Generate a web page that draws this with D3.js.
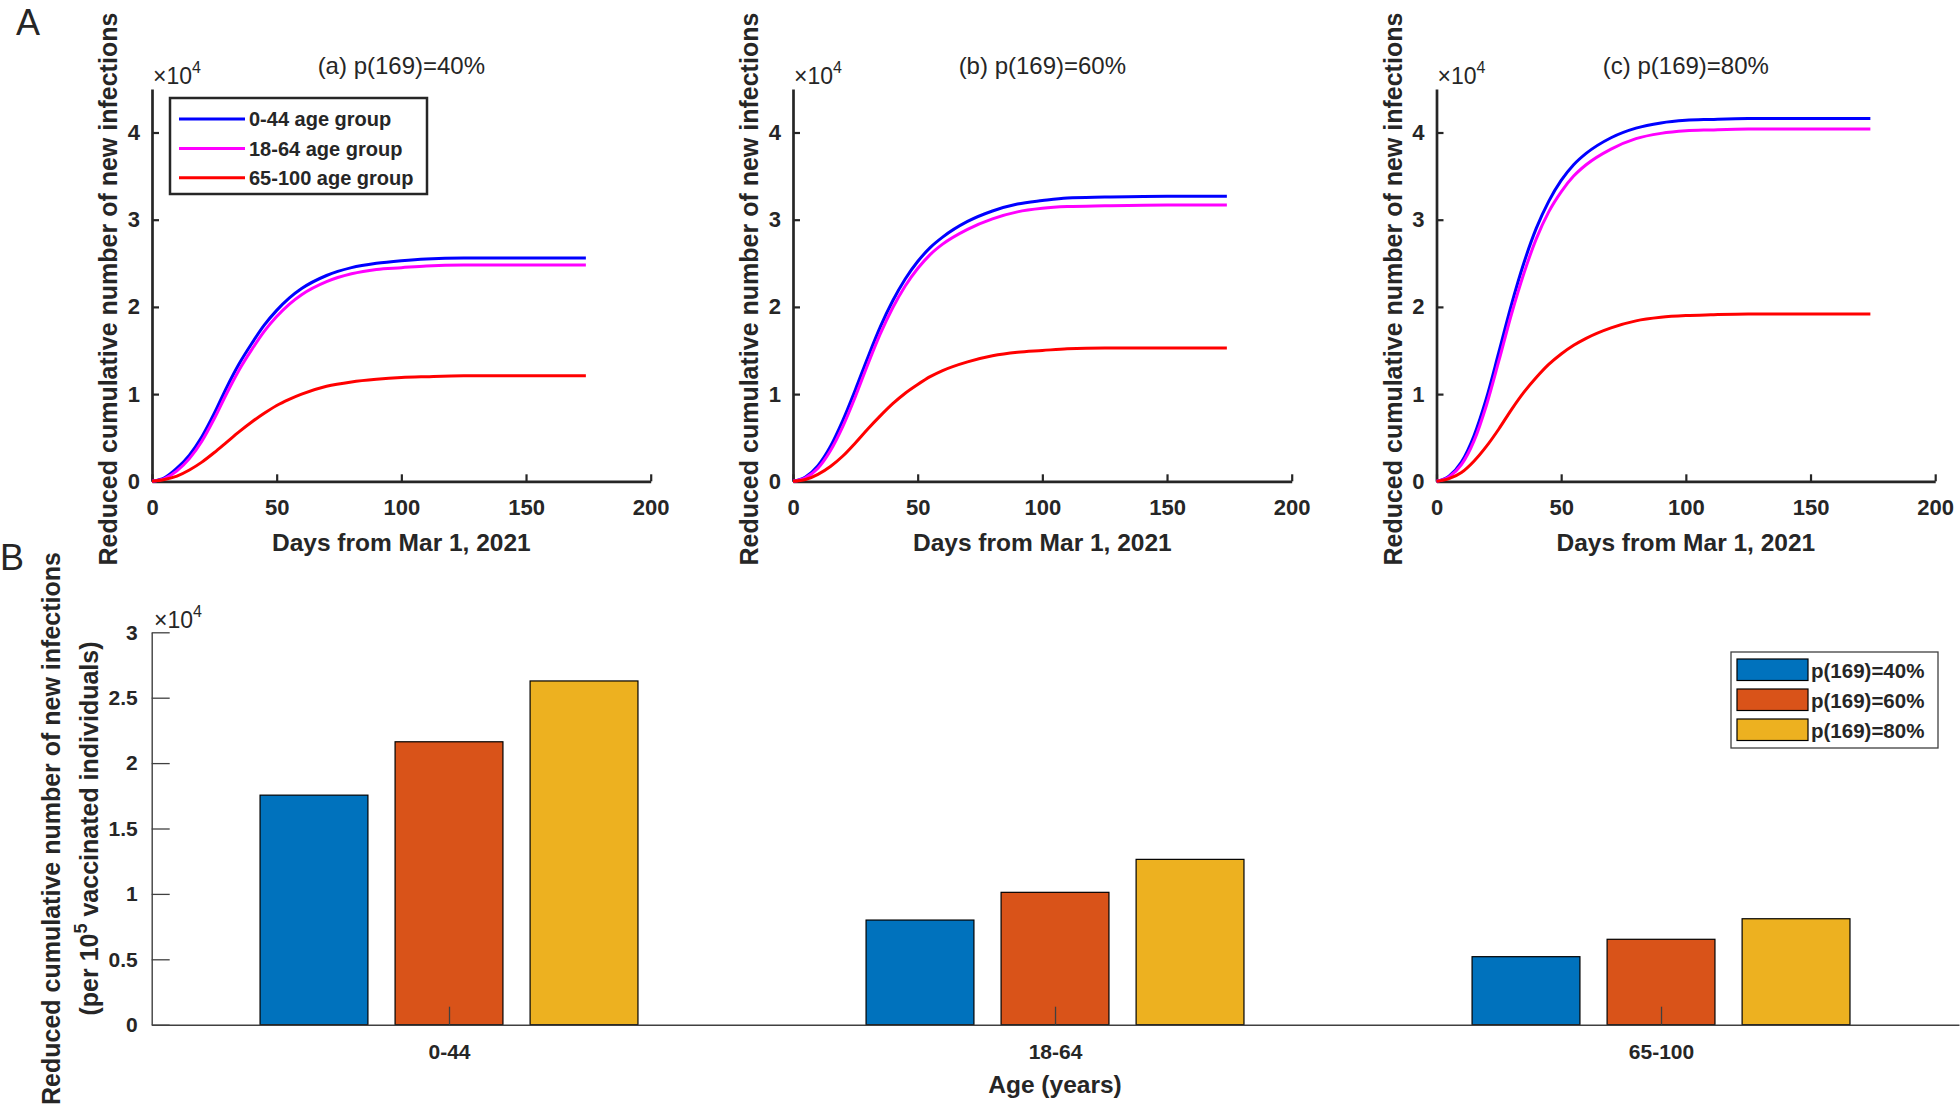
<!DOCTYPE html>
<html lang="en">
<head>
    <meta charset="UTF-8">
    <title>Reduced cumulative infections</title>
    <script src="https://d3js.org/d3.v7.min.js"></script>
    <style>
        body { margin: 0; background: #fff; }
        svg text { font-family: "Liberation Sans", Arial, Helvetica, sans-serif; fill: #262626; }
    </style>
</head>
<body>
    <div id="chart"></div>

    <script>
        // ---- data (values in units of 10^4) ----
        const days = [0, 5, 10, 15, 20, 25, 30, 35, 40, 45, 50, 55, 60, 70, 80, 90, 100, 110, 125, 150, 174];
        const ageGroups = ["0-44 age group", "18-64 age group", "65-100 age group"];
        const panelTitles = ["(a) p(169)=40%", "(b) p(169)=60%", "(c) p(169)=80%"];

        const p40_0_44   = [0, 0.04, 0.15, 0.30, 0.51, 0.78, 1.08, 1.35, 1.58, 1.79, 1.96, 2.10, 2.21, 2.36, 2.45, 2.50, 2.53, 2.55, 2.56, 2.56, 2.56];
        const p40_18_64  = [0, 0.03, 0.12, 0.26, 0.46, 0.72, 1.01, 1.28, 1.51, 1.72, 1.89, 2.03, 2.14, 2.29, 2.38, 2.43, 2.45, 2.47, 2.48, 2.48, 2.48];
        const p40_65_100 = [0, 0.02, 0.06, 0.13, 0.22, 0.33, 0.45, 0.57, 0.68, 0.78, 0.87, 0.94, 1.00, 1.09, 1.14, 1.17, 1.19, 1.20, 1.21, 1.21, 1.21];

        const p60_0_44   = [0, 0.05, 0.18, 0.40, 0.70, 1.05, 1.42, 1.77, 2.07, 2.32, 2.52, 2.68, 2.80, 2.98, 3.10, 3.18, 3.22, 3.25, 3.26, 3.27, 3.27];
        const p60_18_64  = [0, 0.04, 0.15, 0.35, 0.63, 0.97, 1.34, 1.69, 1.99, 2.24, 2.44, 2.60, 2.72, 2.89, 3.01, 3.09, 3.13, 3.15, 3.16, 3.17, 3.17];
        const p60_65_100 = [0, 0.02, 0.08, 0.17, 0.29, 0.44, 0.60, 0.75, 0.89, 1.01, 1.11, 1.20, 1.27, 1.37, 1.44, 1.48, 1.50, 1.52, 1.53, 1.53, 1.53];

        const p80_0_44   = [0, 0.06, 0.22, 0.52, 0.95, 1.48, 2.02, 2.50, 2.90, 3.21, 3.45, 3.63, 3.76, 3.94, 4.05, 4.11, 4.14, 4.15, 4.16, 4.16, 4.16];
        const p80_18_64  = [0, 0.05, 0.19, 0.46, 0.87, 1.38, 1.91, 2.38, 2.78, 3.09, 3.32, 3.50, 3.63, 3.81, 3.93, 3.99, 4.02, 4.03, 4.04, 4.04, 4.04];
        const p80_65_100 = [0, 0.03, 0.10, 0.23, 0.40, 0.60, 0.82, 1.02, 1.19, 1.34, 1.46, 1.56, 1.64, 1.76, 1.84, 1.88, 1.90, 1.91, 1.92, 1.92, 1.92];

        const xTicksA = [0, 50, 100, 150, 200];
        const yTicksA = [0, 1, 2, 3, 4];

        const ageCategories = ["0-44", "18-64", "65-100"];
        const barSeries = ["p(169)=40%", "p(169)=60%", "p(169)=80%"];
        const bar40 = [1.755, 0.80, 0.52];
        const bar60 = [2.163, 1.012, 0.653];
        const bar80 = [2.628, 1.264, 0.81];
        const yTicksB = [0, 0.5, 1, 1.5, 2, 2.5, 3];

        // ---- styling ----
        const lineColors = ["#0000ff", "#ff00ff", "#ff0000"];
        const barColors = ["#0072BD", "#D95319", "#EDB120"];
        const axisColor = "#262626";
        const panels = [
            { title: panelTitles[0], series: [p40_0_44, p40_18_64, p40_65_100], left: 152, legend: true },
            { title: panelTitles[1], series: [p60_0_44, p60_18_64, p60_65_100], left: 793, legend: false },
            { title: panelTitles[2], series: [p80_0_44, p80_18_64, p80_65_100], left: 1436.5, legend: false }
        ];

        const svg = d3.select("#chart")
            .append("svg")
            .attr("width", 1960)
            .attr("height", 1116);

        // panel letters
        svg.append("text").attr("x", 16).attr("y", 35).attr("font-size", 36).text("A");
        svg.append("text").attr("x", 0).attr("y", 570).attr("font-size", 36).text("B");

        // ---- panel A: three line charts ----
        const plotW = 498.7, yTop = 88.9, yBottom = 481.3;

        panels.forEach(p => {
            const x = d3.scaleLinear().domain([0, 200]).range([p.left, p.left + plotW]);
            const y = d3.scaleLinear().domain([0, 4.5]).range([yBottom, yTop]);

            const g = svg.append("g");

            const xAxis = g.append("g")
                .attr("transform", `translate(0,${yBottom})`)
                .call(d3.axisBottom(x).tickValues(xTicksA).tickFormat(d3.format("d"))
                    .tickSizeInner(-7).tickSizeOuter(0).tickPadding(18.5));
            const yAxis = g.append("g")
                .attr("transform", `translate(${p.left},0)`)
                .call(d3.axisLeft(y).tickValues(yTicksA).tickFormat(d3.format("d"))
                    .tickSizeInner(-7).tickSizeOuter(0).tickPadding(12));

            [xAxis, yAxis].forEach(a => {
                a.select(".domain").attr("stroke", axisColor).attr("stroke-width", 2.7);
                a.selectAll(".tick line").attr("stroke", axisColor).attr("stroke-width", 2.2);
                a.selectAll(".tick text").attr("font-size", 22).attr("font-weight", "bold").attr("fill", axisColor)
                    .attr("font-family", "'Liberation Sans', Arial, sans-serif");
            });

            const mid = p.left + plotW / 2;
            g.append("text").attr("x", mid).attr("y", 74).attr("text-anchor", "middle")
                .attr("font-size", 24).text(p.title);

            g.append("text").attr("x", mid).attr("y", 551).attr("text-anchor", "middle")
                .attr("font-size", 24.5).attr("font-weight", "bold").text("Days from Mar 1, 2021");

            g.append("text")
                .attr("transform", `translate(${p.left - 35},${(yTop + yBottom) / 2 + 4}) rotate(-90)`)
                .attr("text-anchor", "middle").attr("font-size", 25).attr("font-weight", "bold")
                .text("Reduced cumulative number of new infections");

            const ex = g.append("text").attr("x", p.left + 1).attr("y", 84).attr("font-size", 23);
            ex.append("tspan").text("×10");
            ex.append("tspan").attr("dy", -11).attr("font-size", 16).text("4");

            const line = d3.line()
                .x((d, i) => x(days[i]))
                .y(d => y(d))
                .curve(d3.curveMonotoneX);

            p.series.forEach((s, k) => {
                g.append("path")
                    .datum(s)
                    .attr("fill", "none")
                    .attr("stroke", lineColors[k])
                    .attr("stroke-width", 3)
                    .attr("d", line);
            });

            if (p.legend) {
                const lg = g.append("g");
                lg.append("rect").attr("x", 170).attr("y", 98).attr("width", 257).attr("height", 96)
                    .attr("fill", "#fff").attr("stroke", axisColor).attr("stroke-width", 2.5);
                const rowY = [119, 148.5, 177.7];
                ageGroups.forEach((name, k) => {
                    lg.append("line").attr("x1", 179).attr("x2", 245).attr("y1", rowY[k]).attr("y2", rowY[k])
                        .attr("stroke", lineColors[k]).attr("stroke-width", 3);
                    lg.append("text").attr("x", 249).attr("y", rowY[k] + 7).attr("font-size", 20)
                        .attr("font-weight", "bold").attr("fill", "#000").text(name);
                });
            }
        });

        // ---- panel B: grouped bars ----
        const bx = d3.scaleLinear().domain([0.5094, 3.4917]).range([151.7, 1959]);
        const by = d3.scaleLinear().domain([0, 3]).range([1024.7, 632.3]);
        const barValues = [bar40, bar60, bar80];
        const offsets = [-0.2228, 0, 0.2228];
        const barW = 0.178;

        const gb = svg.append("g");
        barValues.forEach((vals, s) => {
            gb.selectAll(null)
                .data(vals)
                .enter()
                .append("rect")
                .attr("x", (d, i) => bx(i + 1 + offsets[s] - barW / 2))
                .attr("width", bx(barW) - bx(0))
                .attr("y", d => by(d))
                .attr("height", d => by(0) - by(d))
                .attr("fill", barColors[s])
                .attr("stroke", "#000")
                .attr("stroke-width", 1.2);
        });

        const bxAxis = gb.append("g")
            .attr("transform", `translate(0,${by(0)})`)
            .call(d3.axisBottom(bx).tickValues([1, 2, 3]).tickFormat((d, i) => ageCategories[i])
                .tickSizeInner(-18).tickSizeOuter(0).tickPadding(19));
        const byAxis = gb.append("g")
            .attr("transform", `translate(${bx.range()[0]},0)`)
            .call(d3.axisLeft(by).tickValues(yTicksB).tickFormat(d => String(d))
                .tickSizeInner(-18).tickSizeOuter(0).tickPadding(14));

        [bxAxis, byAxis].forEach(a => {
            a.select(".domain").attr("stroke", "#404040").attr("stroke-width", 1.4);
            a.selectAll(".tick line").attr("stroke", "#404040").attr("stroke-width", 1.3);
            a.selectAll(".tick text").attr("font-size", 21).attr("font-weight", "bold").attr("fill", axisColor)
                .attr("font-family", "'Liberation Sans', Arial, sans-serif");
        });

        gb.append("text").attr("x", bx(2)).attr("y", 1093).attr("text-anchor", "middle")
            .attr("font-size", 24.5).attr("font-weight", "bold").text("Age (years)");

        const ycB = (632.3 + 1024.7) / 2;
        gb.append("text")
            .attr("transform", `translate(60,${ycB}) rotate(-90)`)
            .attr("text-anchor", "middle").attr("font-size", 25).attr("font-weight", "bold")
            .text("Reduced cumulative number of new infections");
        const yl2 = gb.append("text")
            .attr("transform", `translate(98,${ycB}) rotate(-90)`)
            .attr("text-anchor", "middle").attr("font-size", 25).attr("font-weight", "bold");
        yl2.append("tspan").text("(per 10");
        yl2.append("tspan").attr("dy", -11).attr("font-size", 18).text("5");
        yl2.append("tspan").attr("dy", 11).text(" vaccinated individuals)");

        const exB = gb.append("text").attr("x", 154).attr("y", 628).attr("font-size", 23);
        exB.append("tspan").text("×10");
        exB.append("tspan").attr("dy", -11).attr("font-size", 16).text("4");

        // legend B
        const lb = gb.append("g");
        lb.append("rect").attr("x", 1731).attr("y", 652).attr("width", 207).attr("height", 96)
            .attr("fill", "#fff").attr("stroke", "#404040").attr("stroke-width", 1.3);
        const swY = [659, 689, 719];
        barSeries.forEach((name, k) => {
            lb.append("rect").attr("x", 1737).attr("y", swY[k]).attr("width", 71).attr("height", 21.5)
                .attr("fill", barColors[k]).attr("stroke", "#000").attr("stroke-width", 1.2);
            lb.append("text").attr("x", 1811).attr("y", swY[k] + 18.5).attr("font-size", 20.5)
                .attr("font-weight", "bold").attr("fill", "#000").text(name);
        });
    </script>
</body>
</html>
